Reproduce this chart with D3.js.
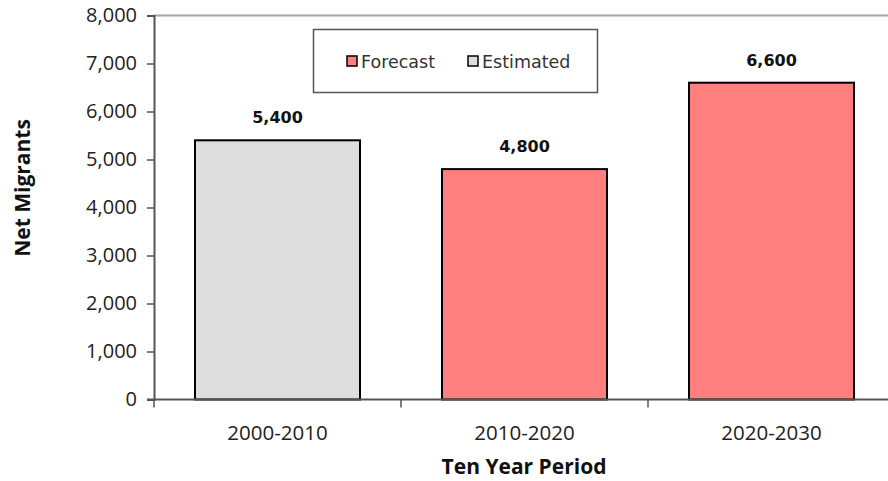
<!DOCTYPE html>
<html>
<head>
<meta charset="utf-8">
<script src="https://cdn.jsdelivr.net/npm/d3@7"></script>
<style>
  html, body { margin: 0; padding: 0; background: #fff; }
  svg { display: block; }
</style>
</head>
<body>
<svg id="chart" width="888" height="481"></svg>
<script>
// Net migrants per ten-year period
const periods = ["2000-2010", "2010-2020", "2020-2030"];
const migrants = [5400, 4800, 6600];
const kinds = ["Estimated", "Forecast", "Forecast"];
const yTicks = [0, 1000, 2000, 3000, 4000, 5000, 6000, 7000, 8000];
const legendItems = ["Forecast", "Estimated"];

const colors = { Forecast: "#FF7F7F", Estimated: "#DDDDDD" };
const sansBody = "'Open Sans', Lato, sans-serif";
const sansWide = "'DejaVu Sans', 'Liberation Sans', sans-serif";

const svg = d3.select("#chart");
const plot = { left: 154, right: 895, top: 15.5, bottom: 399.5 };

const x = d3.scaleBand().domain(periods).range([plot.left, plot.right])
  .paddingInner(0.332).paddingOuter(0.166);
const y = d3.scaleLinear().domain([0, 8000]).range([plot.bottom, plot.top]);

// top frame line of the plot area
svg.append("line")
  .attr("x1", plot.left).attr("x2", 888)
  .attr("y1", plot.top).attr("y2", plot.top)
  .attr("stroke", "#a6a6a6").attr("stroke-width", 2);

// bars
svg.append("g").selectAll("rect")
  .data(periods)
  .join("rect")
  .attr("x", d => x(d))
  .attr("width", x.bandwidth())
  .attr("y", (d, i) => y(migrants[i]))
  .attr("height", (d, i) => y(0) - y(migrants[i]))
  .attr("fill", (d, i) => colors[kinds[i]])
  .attr("stroke", "#000")
  .attr("stroke-width", 2);

// value labels
svg.append("g").selectAll("text")
  .data(periods)
  .join("text")
  .attr("x", d => x(d) + x.bandwidth() / 2)
  .attr("y", (d, i) => y(migrants[i]) - 17)
  .attr("text-anchor", "middle")
  .attr("font-family", sansWide)
  .attr("font-weight", "bold")
  .attr("font-size", 16)
  .attr("fill", "#111")
  .text((d, i) => d3.format(",")(migrants[i]));

// y axis
const yAxis = svg.append("g")
  .attr("transform", `translate(${plot.left},0)`)
  .call(d3.axisLeft(y).tickValues(yTicks).tickFormat(d3.format(",")).tickSize(7).tickPadding(10));
yAxis.select(".domain").attr("stroke", "#555").attr("stroke-width", 2);
yAxis.selectAll(".tick line").attr("stroke", "#555").attr("stroke-width", 1.5);
yAxis.selectAll(".tick text")
  .attr("font-family", sansBody).attr("font-size", 20).attr("fill", "#222");

// x axis with ticks between the categories
const xAxis = svg.append("g")
  .attr("transform", `translate(0,${plot.bottom})`);
xAxis.append("line")
  .attr("x1", plot.left - 7).attr("x2", 888)
  .attr("stroke", "#555").attr("stroke-width", 2);
const bounds = periods.map((d, i) => plot.left + i * (plot.right - plot.left) / periods.length);
xAxis.selectAll("line.sep")
  .data(bounds)
  .join("line")
  .attr("class", "sep")
  .attr("x1", d => d).attr("x2", d => d)
  .attr("y1", 0).attr("y2", 8)
  .attr("stroke", "#555").attr("stroke-width", 1.5);
xAxis.selectAll("text")
  .data(periods)
  .join("text")
  .attr("x", d => x(d) + x.bandwidth() / 2)
  .attr("y", 40)
  .attr("text-anchor", "middle")
  .attr("font-family", sansBody)
  .attr("font-size", 20.5)
  .attr("fill", "#222")
  .text(d => d);

// axis titles
svg.append("text")
  .attr("x", (plot.left + plot.right) / 2 - 0.5)
  .attr("y", 474)
  .attr("text-anchor", "middle")
  .attr("font-family", sansBody)
  .attr("font-weight", "bold")
  .attr("font-size", 21)
  .attr("fill", "#111")
  .text("Ten Year Period");

svg.append("text")
  .attr("transform", "translate(30,188) rotate(-90)")
  .attr("text-anchor", "middle")
  .attr("font-family", sansBody)
  .attr("font-weight", "bold")
  .attr("font-size", 21)
  .attr("fill", "#111")
  .text("Net Migrants");

// legend
const legend = svg.append("g");
legend.append("rect")
  .attr("x", 313.5).attr("y", 29.5).attr("width", 284).attr("height", 63)
  .attr("fill", "#fff").attr("stroke", "#555").attr("stroke-width", 1.5);
const legendX = [347, 468];
const li = legend.selectAll("g.item")
  .data(legendItems)
  .join("g")
  .attr("class", "item")
  .attr("transform", (d, i) => `translate(${legendX[i]},56)`);
li.append("rect")
  .attr("width", 10).attr("height", 10)
  .attr("fill", d => colors[d])
  .attr("stroke", "#000").attr("stroke-width", 1.5);
li.append("text")
  .attr("x", 14).attr("y", 11.5)
  .attr("font-family", sansWide)
  .attr("font-size", 17.5)
  .attr("fill", "#333")
  .text(d => d);
</script>
</body>
</html>
